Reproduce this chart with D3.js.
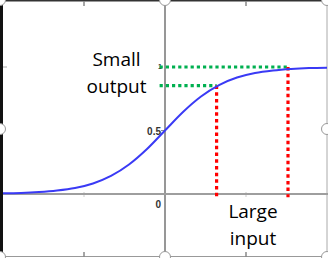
<!DOCTYPE html>
<html><head><meta charset="utf-8">
<script src="https://cdn.jsdelivr.net/npm/d3@7"></script>
<style>html,body{margin:0;padding:0;background:#fff;overflow:hidden}</style>
</head><body>
<script>
// Sigmoid curve points
const curveX = [-5.4,-4.8,-4.2,-3.6,-3.0,-2.4,-1.8,-1.2,-0.6,0,0.6,1.2,1.8,2.4,3.0,3.6,4.2,4.8,5.4];
const curveY = [0.005,0.008,0.015,0.027,0.047,0.083,0.142,0.232,0.354,0.5,0.646,0.768,0.858,0.917,0.953,0.973,0.985,0.992,0.995];
const xTicks = [-2.7, 2.7];
const yTicks = [0, 0.5, 1];
const yTickLabels = ["0", "0.5", "1"];
// Guide lines: input value and its output
const guideInputs = [1.72, 4.1];
const guideOutputs = [0.854, 1.0];
const guideBottom = -0.025;
const guideLeft = -0.18;
const labelTop = ["Small", "output"];
const labelBottom = ["Large", "input"];

const W = 328, H = 258;
const svg = d3.select("body").append("svg").attr("width", W).attr("height", H);
const x = d3.scaleLinear().domain([-5.4, 5.4]).range([3, 327]);
const y = d3.scaleLinear().domain([0, 1]).range([194, 67]);

// frame
svg.append("line").attr("x1",0).attr("x2",W).attr("y1",0.75).attr("y2",0.75).attr("stroke","#333").attr("stroke-width",1.5);
svg.append("line").attr("x1",1.5).attr("x2",1.5).attr("y1",0).attr("y2",H).attr("stroke","#111").attr("stroke-width",3);
svg.append("line").attr("x1",327).attr("x2",327).attr("y1",0).attr("y2",H).attr("stroke","#aaa").attr("stroke-width",1);
svg.append("line").attr("x1",0).attr("x2",W).attr("y1",256.5).attr("y2",256.5).attr("stroke","#999").attr("stroke-width",1);

// frame ticks
xTicks.forEach(t => {
  svg.append("line").attr("x1",x(t)).attr("x2",x(t)).attr("y1",1).attr("y2",6).attr("stroke","#888").attr("stroke-width",1.5);
  svg.append("line").attr("x1",x(t)).attr("x2",x(t)).attr("y1",252).attr("y2",257).attr("stroke","#888").attr("stroke-width",1.5);
  svg.append("line").attr("x1",x(t)).attr("x2",x(t)).attr("y1",y(0)-2).attr("y2",y(0)+3).attr("stroke","#ddd").attr("stroke-width",1.5);
});
svg.append("line").attr("x1",3).attr("x2",7).attr("y1",y(1)).attr("y2",y(1)).attr("stroke","#aaa").attr("stroke-width",1);

// axes
svg.append("line").attr("x1",x(0)).attr("x2",x(0)).attr("y1",0).attr("y2",H).attr("stroke","#8c8c8c").attr("stroke-width",1.8);
svg.append("line").attr("x1",3).attr("x2",W).attr("y1",y(0)).attr("y2",y(0)).attr("stroke","#9e9e9e").attr("stroke-width",2);

// y tick labels
const lblPos = [[x(0)-4, y(0)+14], [x(0)-4, y(0.5)+4], [x(0)-3, y(1)+2]];
yTicks.forEach((t,i) => {
  svg.append("text").attr("x",lblPos[i][0]).attr("y",lblPos[i][1]).attr("text-anchor","end")
    .attr("font-family","Liberation Sans, Arial, sans-serif").attr("font-weight","bold")
    .attr("font-size", i===2 ? 7 : 10).attr("fill","#333").text(yTickLabels[i]);
  if (i===1) svg.append("line").attr("x1",x(0)-4).attr("x2",x(0)).attr("y1",y(0.5)).attr("y2",y(0.5)).attr("stroke","#888");
});

// guides
guideInputs.forEach((g,i) => {
  svg.append("line").attr("x1",x(guideLeft)).attr("x2",x(g)).attr("y1",y(guideOutputs[i])).attr("y2",y(guideOutputs[i]))
    .attr("stroke","#00b050").attr("stroke-width",3.2).attr("stroke-dasharray","3.2,3");
  svg.append("line").attr("x1",x(g)).attr("x2",x(g)).attr("y1",y(guideOutputs[i])).attr("y2",y(guideBottom))
    .attr("stroke","#ff0000").attr("stroke-width",3.2).attr("stroke-dasharray","3.5,3.2");
});

// curve
const pts = curveX.map((v,i) => [v, curveY[i]]);
svg.append("path").datum(pts)
  .attr("d", d3.line().x(d=>x(d[0])).y(d=>y(d[1])).curve(d3.curveMonotoneX))
  .attr("fill","none").attr("stroke","#3a3af5").attr("stroke-width",2);

// labels
const font = "Open Sans, Noto Sans, sans-serif";
labelTop.forEach((s,i) => svg.append("text").attr("x",116.5).attr("y",66+i*27).attr("text-anchor","middle")
  .attr("font-family",font).attr("font-size",19).attr("fill","#000").text(s));
labelBottom.forEach((s,i) => svg.append("text").attr("x",253).attr("y",218+i*27).attr("text-anchor","middle")
  .attr("font-family",font).attr("font-size",19).attr("fill","#000").text(s));

// selection handles
const handles = [[0,0],[165,0],[327,0],[0,129],[327,129],[0,257],[165,257],[327,257]];
svg.selectAll("circle.h").data(handles).join("circle").attr("class","h")
  .attr("cx",d=>d[0]).attr("cy",d=>d[1]).attr("r",5.5).attr("fill","#fff").attr("stroke","#999").attr("stroke-width",1);
</script>
</body></html>
